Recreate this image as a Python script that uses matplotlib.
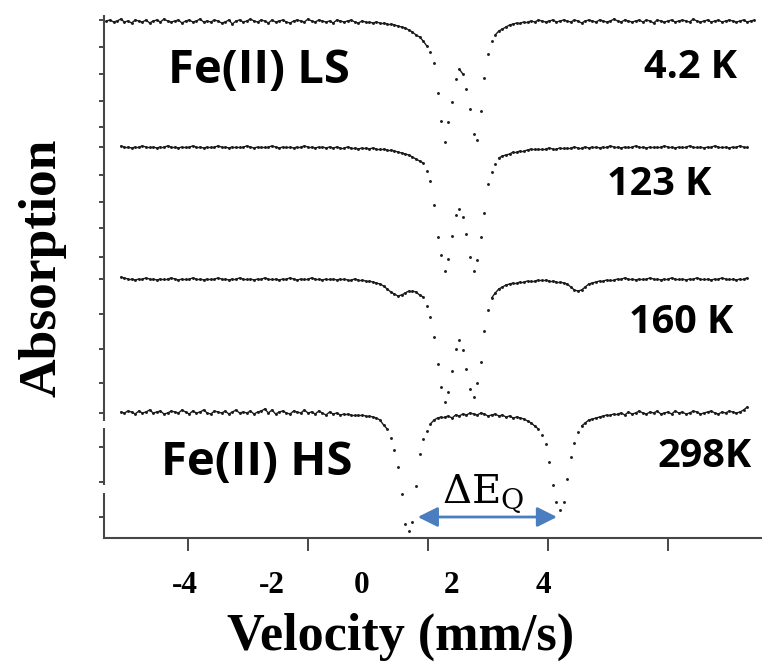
import numpy as np
import matplotlib
matplotlib.use("Agg")
import matplotlib.pyplot as plt
from matplotlib import transforms
from matplotlib.collections import LineCollection

# ---------------------------------------------------------------------------
# Mossbauer spectra of the Fe(II) spin-crossover complex at four temperatures.
# Absorption is given as dip depth below each spectrum's own baseline
# (arbitrary units), one value per velocity channel.
# ---------------------------------------------------------------------------
channel_step = 0.06          # mm/s per channel
first_velocity = -5.36       # mm/s, channel 0
velocity = first_velocity + channel_step * np.arange(181)

temperatures = ["4.2 K", "123 K", "160 K", "298K"]

abs_4K = [
    0, -1, 1, 0, -2, 1, 0, 2, -1, 0, 1, -1, 2, 0, -1, 1, -2, 0, 1, 0,
    -1, 2, 0, -1, 1, 0, -2, 1, 0, 1, -1, 0, 2, 1, -1, 3, 0, -1, 1, 0,
    -2, 0, 1, -1, 0, 2, -1, 1, 0, -1, 1, 2, 0, -1, 0, 1, -2, 0, 1, -1,
    0, 1, 0, 2, -1, 0, 1, 0, -1, 1, 2, 0, 1, 1, 2, 1,
    2, 2, 3, 3, 4, 5, 6, 7, 9, 11, 14, 16, 20, 25, 31, 42, 72, 100, 121, 101,
    81, 58, 48, 53, 68, 88, 113, 119, 90, 57, 33, 20, 14, 10, 8, 6, 4, 3, 2, 2, 1,
    1, 0, 1, -1, 0, 1, 0, -1, 1, 0, -1, 0, 1, -1, 0, 2, 0, -1, 0, 1,
    -1, 0, 1, 0, -2, 0, 1, -1, 0, 1, 0, -1, 1, -1, 0, 2, -1, 0, 1, 0,
    -1, 1, 0, -1, 0, 1, -2, 0, 1, 0, -1, 1, 0, -1, 1, 0, -1, 0, 1, 0,
    -1, 1, 0, -1,
]

abs_123K = [
    -1, 0, 0, 1, 0, 0, -1, 0, 0, 0, 1, 0, 0, -1, 0, 0, 1, 0, 0, 0,
    -1, 0, 0, 1, 0, 0, 0, -1, 0, 0, 1, 0, 0, 0, 0, -1, 0, 1, 0, 0,
    0, 0, -1, 0, 1, 0, 0, 0, 1, 0, 0, -1, 0, 0, 1, 0, 0, 1, 0, 1,
    0, 1, 1, 0, 1, 1, 2, 1, 1, 2, 1, 2,
    2, 2, 3, 3, 4, 5, 6, 7, 8, 10, 12, 14, 16, 24, 34, 58, 90, 108, 124, 112,
    89, 68, 62, 70, 87, 110, 124, 113, 90, 66, 37, 25, 17, 11, 9, 8, 7, 5, 5, 4,
    4, 3,
    2, 2, 2, 2, 2, 1, 2, 2, 1, 1, 1, 1, 0, 1, 1, 0, 1, 0, 0, 1,
    0, 0, -1, 0, 0, 1, 0, 0, 0, -1, 0, 0, 1, 0, 0, 0, 0, -1, 0, 0,
    1, 0, 0, 0, -1, 0, 0, 0, 1, 0, 0, -1, 0, 0, 0, 1, 0, 0, -1, 0,
    0,
]

abs_160K = [
    -2, -1, 0, 0, 1, 0, 0, -1, 0, 0, 1, 0, 0, 0, -1, 0, 1, 0, 0, 0,
    -1, 0, 0, 1, 0, 0, 0, -1, 0, 0, 1, 0, 0, -1, 0, 0, 0, 1, 0, 0,
    -1, 0, 0, 0, 1, 0, 0, -1, 0, 1, 0, 0, 0, -1, 0, 0, 1, 0, 0, 0,
    1, 0, 0, 1, 1, 0,
    1, 1, 2, 2, 3, 4, 5, 7, 10, 13, 15, 17, 16, 14, 12, 12, 13, 16, 18, 27,
    38, 58, 85, 108, 123, 113, 92, 70, 61, 71, 90, 110, 118, 104, 83, 52, 31, 19, 14, 10,
    8, 6, 5, 4, 4, 3, 3, 2, 2, 2, 1, 1, 1, 2, 2, 3, 3, 4, 5, 8,
    11, 12, 11, 8, 5, 4, 3, 2, 2, 1, 1,
    1, 0, 0, -1, 0, 0, 1, 0, 0, 0, -1, 0, 0, 1, 0, 0, -1, 0, 0, 0,
    1, 0, 0, -1, 0, 0, 0, 1, 0, 0, -1, 0, 0, 0, 1, 0, 0, -1,
]

abs_298K = [
    0, 1, -1, 0, 2, -1, 1, 0, -2, 1, 0, -1, 2, 1, -1, 0, 1, -2, 0, 2,
    -1, 1, 0, -2, 1, 2, -1, 0, 1, -1, 2, 0, -2, 1, 0, 1, -1, 2, 0, -1,
    -3, 1, -2, 2, 0, -1, 1, 2, -1, 0, 1, -2, 1, 0, 2, -1, 1, 3, 0, 2,
    1, 3, 2, 2, 3, 3,
    3, 3, 4, 4, 5, 6, 8, 13, 17, 26, 38, 55, 82, 112, 119, 110, 74, 42, 27, 19,
    12, 8, 6, 5,
    5, 4, 6, 3, 4, 2, 3, 1, 2, 3, 1, 2, 4, 3, 2, 4, 3, 5, 4, 6, 5,
    6, 7, 9, 11, 14, 17, 23, 32, 50, 73, 90, 98, 90, 67, 45, 31, 20, 14, 11, 8,
    7, 6, 5, 4, 3, 3, 2,
    2, 1, 3, 0, 2, 1, -1, 1, 2, 0, 1, -1, 2, 1, 0, 2, -1, 1, 0, 2,
    1, -1, 0, 2, 1, 0, -1, 1, 2, 0, 1, -1, 0, 1, 0, -2, -5,
]

spectra = [abs_4K, abs_123K, abs_160K, abs_298K]
first_channel = [0, 4, 4, 4]

# Velocity axis: ticks every 2 mm/s, tick texts as printed on the figure
tick_values = [-4, -2, 0, 2, 4]
tick_texts = ["-4", "-2", "0", "2", "4"]

# ---------------------------------------------------------------------------
# layout / style
# ---------------------------------------------------------------------------
baseline_levels = [517, 391, 259, 126]
tick_text_positions = [-4.05, -2.6, -1.1, 0.4, 1.92]
y_tick_positions = [518, 491, 464, 437, 411, 391, 363, 336, 310, 281,
                    259, 224, 189, 155, 125, 91, 56, 21]
left_spine_pieces = [(117, 523), (53, 110), (0, 45)]
axis_color = "#474747"
dot_color = "#1c1c1c"
arrow_color = "#4a7ebf"
serif = "Liberation Serif"
sans = ["Open Sans", "DejaVu Sans"]
join_limit = 5   # neighbouring channels closer than this are drawn joined

W, H = 762, 663
fig = plt.figure(figsize=(W / 100, H / 100), dpi=100)
ax = fig.add_axes([104 / W, (H - 538) / H, (W - 104) / W, 538 / H])
ax.set_xlim(-5.4, 5.5667)
ax.set_ylim(0, 538)

for depth, start, base in zip(spectra, first_channel, baseline_levels):
    depth = np.asarray(depth, dtype=float)
    v = velocity[start:start + len(depth)]
    y = base - depth
    pts = np.column_stack([v, y])
    close = np.abs(np.diff(depth)) <= join_limit
    segs = np.stack([pts[:-1], pts[1:]], axis=1)[close]
    ax.add_collection(LineCollection(segs, colors=dot_color, linewidths=1.0,
                                     capstyle="round", clip_on=False))
    ax.plot(v, y, ls="none", marker="o", ms=2.1, mew=0,
            color=dot_color, clip_on=False)

# axes frame
for side in ("top", "right", "left"):
    ax.spines[side].set_visible(False)
ax.spines["bottom"].set_color(axis_color)
ax.spines["bottom"].set_linewidth(1.5)
blend = transforms.blended_transform_factory(ax.transAxes, ax.transData)
for y0, y1 in left_spine_pieces:
    ax.plot([0, 0], [y0, y1], transform=blend, color=axis_color, lw=1.5,
            solid_capstyle="butt", clip_on=False)

ax.set_yticks(y_tick_positions)
ax.set_yticklabels([])
ax.tick_params(axis="y", direction="out", length=3.6, width=1.4,
               color=axis_color)

ax.set_xticks(tick_values)
ax.set_xticklabels([])
ax.tick_params(axis="x", which="major", direction="out", length=9.5,
               width=1.4, color=axis_color)
ax.set_xticks(tick_text_positions, minor=True)
ax.set_xticklabels(tick_texts, minor=True, fontfamily=serif,
                   fontweight="bold", fontsize=22.5)
ax.tick_params(axis="x", which="minor", length=0, pad=24)

ax.set_xlabel("Velocity (mm/s)", fontfamily=serif, fontweight="bold",
              fontsize=37.5, va="center")
ax.xaxis.set_label_coords(0.451, -0.184)
ax.set_ylabel("Absorption", fontfamily=serif, fontweight="bold",
              fontsize=38.5, va="center")
ax.yaxis.set_label_coords(-0.093, 0.502)

# annotations
ax.text(-2.82, 455, "Fe(II) LS", family=sans, fontweight="bold",
        fontsize=34, ha="center", va="baseline")
ax.text(-2.85, 63, "Fe(II) HS", family=sans, fontweight="bold",
        fontsize=34, ha="center", va="baseline")
label_anchor = [(5.15, 460), (4.73, 343), (5.08, 205), (5.4, 71)]
for txt, (lx, ly) in zip(temperatures, label_anchor):
    ax.text(lx, ly, txt, family=sans, fontweight="bold", fontsize=28.5,
            ha="right", va="baseline")

ax.annotate("", xy=(2.15, 21), xytext=(-0.17, 21),
            arrowprops=dict(arrowstyle="<|-|>,head_length=0.6,head_width=0.3",
                            color=arrow_color, lw=2, mutation_scale=20,
                            shrinkA=0, shrinkB=0))
ax.text(0.24, 35, r"$\mathregular{\Delta E_Q}$", family="DejaVu Serif",
        fontsize=29, ha="left", va="baseline")

fig.savefig("out.png", dpi=100)
